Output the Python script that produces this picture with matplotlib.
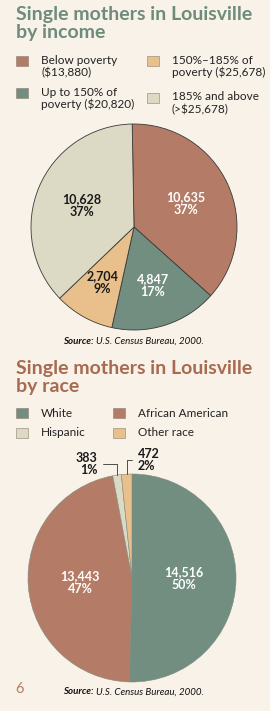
import numpy as np
import matplotlib
matplotlib.use('Agg')
import matplotlib.pyplot as plt
from matplotlib.patches import Rectangle

# Данные
income_labels = ['Below poverty\n($13,880)', 'Up to 150% of\npoverty ($20,820)',
                 '150%\u2013185% of\npoverty ($25,678)', '185% and above\n(>$25,678)']
income_values = [10635, 4847, 2704, 10628]
income_pct = ['37%', '17%', '9%', '37%']

race_labels = ['White', 'African American', 'Hispanic', 'Other race']
race_values = [14516, 13443, 383, 472]
race_pct = ['50%', '47%', '1%', '2%']

RED = '#b47c66'
GREEN = '#718e80'
ORANGE = '#e9c08c'
BEIGE = '#dcd9c4'
BG = '#f8f2e8'

income_colors = [RED, GREEN, ORANGE, BEIGE]
income_text = ['white', 'white', '#1a1a1a', '#1a1a1a']
race_colors = [GREEN, RED, BEIGE, ORANGE]

W, H = 270, 711
fig = plt.figure(figsize=(W / 100, H / 100), dpi=100, facecolor=BG)
plt.rcParams['font.family'] = ['Lato', 'DejaVu Sans']


def fx(x):
    return x / W


def fy(y):
    return 1 - y / H


def pie_axes(cx, cy, r):
    ax = fig.add_axes([fx(cx - r), fy(cy + r), 2 * r / W, 2 * r / H])
    ax.set_facecolor('none')
    return ax


def label_pos(w, r):
    a = np.deg2rad((w.theta1 + w.theta2) / 2)
    return r * np.cos(a), r * np.sin(a)


# ---------- по доходу ----------
fig.text(fx(16), fy(23.5), 'Single mothers in Louisville\nby income', color='#6e8b7c',
         fontsize=14, fontweight='bold', ha='left', va='center', linespacing=1.12)

leg_pos = [(16, 61), (16, 93), (147, 61), (147, 98)]
for (x, y), lab, c in zip(leg_pos, income_labels, income_colors):
    fig.add_artist(Rectangle((fx(x), fy(y + 5)), 12 / W, 10 / H, facecolor=c,
                             edgecolor='#8a7f70', lw=0.4, transform=fig.transFigure))
    fig.text(fx(x + 25), fy(y - 6.5), lab, fontsize=8.5, color='#222222',
             ha='left', va='top', linespacing=1.15)

ax1 = pie_axes(134, 227, 103)
wedges, _ = ax1.pie(income_values, colors=income_colors, startangle=91, counterclock=False,
                    wedgeprops=dict(edgecolor='#3a3a3a', linewidth=0.6))
ax1.set_xlim(-1, 1)
ax1.set_ylim(-1, 1)
for w, v, p, tc, r in zip(wedges, income_values, income_pct, income_text,
                          [0.55, 0.6, 0.62, 0.55]):
    x, y = label_pos(w, r)
    ax1.text(x, y, f'{v:,}\n{p}', ha='center', va='center', color=tc,
             fontsize=9, fontweight='bold', linespacing=1.1)

fig.text(fx(94), fy(341), 'Source:', fontsize=7, fontweight='bold', fontstyle='italic',
         ha='right', va='center', color='#111111')
fig.text(fx(96), fy(341), 'U.S. Census Bureau, 2000.', fontsize=7, fontstyle='italic',
         ha='left', va='center', color='#111111')

# ---------- по расе ----------
fig.text(fx(16), fy(377.5), 'Single mothers in Louisville\nby race', color='#a86a50',
         fontsize=14, fontweight='bold', ha='left', va='center', linespacing=1.12)

leg_pos = [(16, 413), (113, 413), (16, 433), (113, 433)]
for (x, y), lab, c in zip(leg_pos, race_labels, race_colors):
    fig.add_artist(Rectangle((fx(x), fy(y + 5)), 12 / W, 10 / H, facecolor=c,
                             edgecolor='#8a7f70', lw=0.4, transform=fig.transFigure))
    fig.text(fx(x + 25), fy(y), lab, fontsize=8.5, color='#222222', ha='left', va='center')

ax2 = pie_axes(132, 578, 104)
wedges, _ = ax2.pie(race_values, colors=race_colors, startangle=90, counterclock=False,
                    wedgeprops=dict(edgecolor='#7f8a7f', linewidth=0.4))
ax2.set_xlim(-1, 1)
ax2.set_ylim(-1, 1)
for w, v, p in zip(wedges[:2], race_values[:2], race_pct[:2]):
    x, y = label_pos(w, 0.5)
    ax2.text(x, y, f'{v:,}\n{p}', ha='center', va='center', color='white',
             fontsize=9, fontweight='bold', linespacing=1.1)

for w, v, p, off, ha in zip(wedges[2:], race_values[2:], race_pct[2:],
                            [(-14, 8), (8, 10)], ['right', 'left']):
    x, y = label_pos(w, 1.0)
    ax2.annotate(f'{v:,}\n{p}', xy=(x, y), xytext=off, textcoords='offset points',
                 ha=ha, va='center', fontsize=9, fontweight='bold', color='#1a1a1a',
                 linespacing=1.05, annotation_clip=False,
                 arrowprops=dict(arrowstyle='-', color='#333333', lw=0.6,
                                 connectionstyle='angle,angleA=0,angleB=90,rad=0',
                                 shrinkA=2, shrinkB=0))

fig.text(fx(94), fy(692), 'Source:', fontsize=7, fontweight='bold', fontstyle='italic',
         ha='right', va='center', color='#111111')
fig.text(fx(96), fy(692), 'U.S. Census Bureau, 2000.', fontsize=7, fontstyle='italic',
         ha='left', va='center', color='#111111')

fig.text(fx(15), fy(689), '6', fontsize=10.5, color='#b47c66', ha='left', va='center')

fig.savefig('out.png', dpi=100, facecolor=BG)
